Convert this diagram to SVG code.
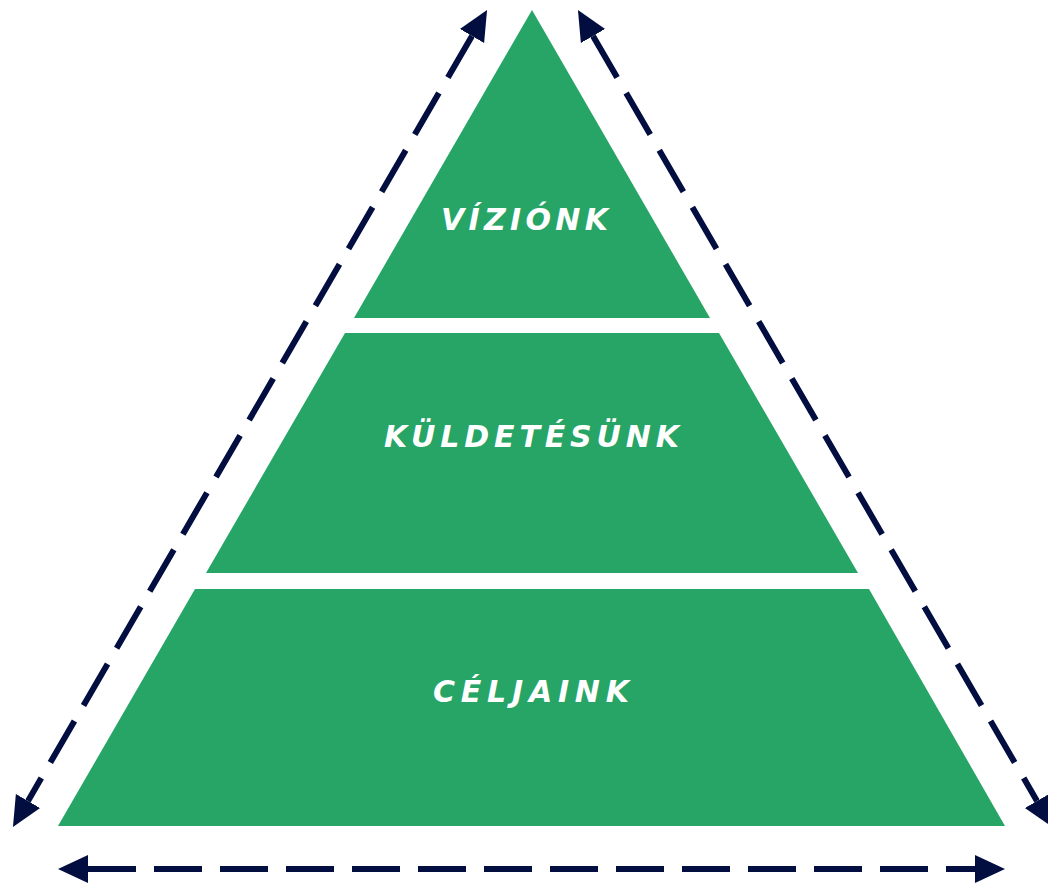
<svg xmlns="http://www.w3.org/2000/svg" width="1048" height="884" viewBox="0 0 1048 884">
<style>
.tier{fill:#26a566}
.lbl{fill:#ffffff;font-family:"DejaVu Sans","Liberation Sans",sans-serif;font-weight:700;font-style:italic;font-size:30px}
.dash{stroke:#020d40;stroke-width:6;stroke-dasharray:48 18;fill:none}
</style>
<defs>
<marker id="ah" markerUnits="userSpaceOnUse" markerWidth="32" markerHeight="30" viewBox="0 -15 32 30" refX="0" refY="0" orient="auto-start-reverse">
<path d="M0,-14 L30,0 L0,14 Z" fill="#020d40"/>
</marker>
</defs>
<rect width="1048" height="884" fill="#ffffff"/>
<g id="tier-top">
<polygon class="tier" points="532,10 710,318 354,318"/>
<text class="lbl" x="441" y="230" textLength="167" lengthAdjust="spacing">VÍZIÓNK</text>
</g>
<g id="tier-middle">
<polygon class="tier" points="345,333 719,333 858,573 206,573"/>
<text class="lbl" x="384" y="447" textLength="295" lengthAdjust="spacing">KÜLDETÉSÜNK</text>
</g>
<g id="tier-bottom">
<polygon class="tier" points="195,589 869,589 1005,826 58,826"/>
<text class="lbl" x="433" y="702" textLength="196" lengthAdjust="spacing">CÉLJAINK</text>
</g>
<g id="connectors">
<line class="dash" x1="472" y1="36" x2="28" y2="801" marker-start="url(#ah)" marker-end="url(#ah)"/>
<line class="dash" x1="593" y1="36" x2="1037" y2="801" marker-start="url(#ah)" marker-end="url(#ah)"/>
<line class="dash" x1="88" y1="869" x2="975" y2="869" marker-start="url(#ah)" marker-end="url(#ah)"/>
</g>
</svg>
